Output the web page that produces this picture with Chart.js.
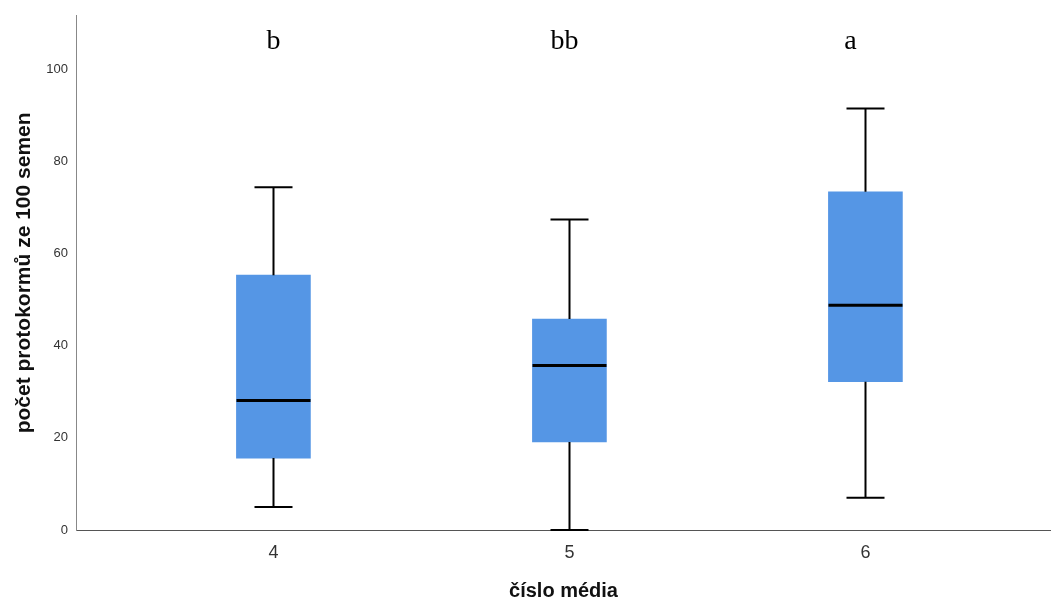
<!DOCTYPE html>
<html>
<head>
<meta charset="utf-8">
<script src="https://cdn.jsdelivr.net/npm/chart.js@4"></script>
<style>
  html, body { margin: 0; padding: 0; background: #ffffff; }
  #wrap { width: 1051px; height: 601px; }
</style>
</head>
<body>
<div id="wrap"><canvas id="c" width="1051" height="601"></canvas></div>
<script>
// ---- data ----
const categories = [4, 5, 6];
const whiskerLow = [5, 0, 7];
const q1Values = [15.6, 19.1, 32.2];
const medianValues = [28.1, 35.7, 48.8];
const q3Values = [55.3, 45.8, 73.4];
const whiskerHigh = [74.4, 67.4, 91.5];
const groupLetters = ['b', 'bb', 'a'];
const yTicks = [0, 20, 40, 60, 80, 100];
const xTicks = [4, 5, 6];

const boxData = categories.map((c, i) => ({ x: c, y: [q1Values[i], q3Values[i]] }));

const boxPlugin = {
  id: 'boxExtras',
  afterDatasetsDraw(chart) {
    const ctx = chart.ctx;
    const xs = chart.scales.x, ys = chart.scales.y;
    const boxW = 74, capW = 38;
    ctx.save();
    categories.forEach((c, i) => {
      const px = Math.round(xs.getPixelForValue(c)) + 0.5;
      const yLo = ys.getPixelForValue(whiskerLow[i]);
      const yQ1 = ys.getPixelForValue(q1Values[i]);
      const yQ3 = ys.getPixelForValue(q3Values[i]);
      const yHi = ys.getPixelForValue(whiskerHigh[i]);
      const yMed = ys.getPixelForValue(medianValues[i]);
      ctx.strokeStyle = '#000000';
      ctx.lineWidth = 2;
      ctx.beginPath();
      ctx.moveTo(px, yHi); ctx.lineTo(px, yQ3);
      ctx.moveTo(px, yQ1); ctx.lineTo(px, yLo);
      ctx.moveTo(px - capW / 2, yHi); ctx.lineTo(px + capW / 2, yHi);
      ctx.moveTo(px - capW / 2, yLo); ctx.lineTo(px + capW / 2, yLo);
      ctx.stroke();
      ctx.lineWidth = 3;
      ctx.beginPath();
      ctx.moveTo(px - boxW / 2, yMed); ctx.lineTo(px + boxW / 2, yMed);
      ctx.stroke();
    });
    // group letters
    const offsets = [0, -5, -15];
    ctx.fillStyle = '#000000';
    ctx.font = '28px "Liberation Serif", "Times New Roman", serif';
    ctx.textAlign = 'center';
    ctx.textBaseline = 'alphabetic';
    categories.forEach((c, i) => {
      const px = xs.getPixelForValue(c) + offsets[i];
      ctx.fillText(groupLetters[i], px, 49);
    });
    ctx.restore();
  }
};

new Chart(document.getElementById('c'), {
  type: 'bar',
  data: {
    datasets: [{
      data: boxData,
      backgroundColor: '#5596e5',
      borderWidth: 0,
      barThickness: 74
    }]
  },
  options: {
    responsive: false,
    animation: false,
    layout: { padding: { top: 13, right: 0, left: 0, bottom: 0 } },
    plugins: { legend: { display: false }, tooltip: { enabled: false } },
    scales: {
      x: {
        type: 'linear',
        offset: false,
        min: 3.333,
        max: 6.627,
        afterBuildTicks(axis) { axis.ticks = xTicks.map(v => ({ value: v })); },
        afterFit(axis) { axis.height = 71; },
        grid: { display: false, drawTicks: false, offset: false },
        border: { display: true, color: '#555555', width: 1 },
        ticks: {
          padding: 12,
          color: '#333333',
          font: { family: '"Liberation Sans", Arial, sans-serif', size: 18 },
          callback: v => String(v)
        },
        title: {
          display: true,
          text: 'číslo média',
          color: '#111111',
          font: { family: '"Liberation Sans", Arial, sans-serif', size: 20, weight: 'bold', lineHeight: 1 },
          padding: { top: 0, bottom: 0 }
        }
      },
      y: {
        min: 0,
        max: 111.6,
        afterBuildTicks(axis) { axis.ticks = yTicks.map(v => ({ value: v })); },
        afterFit(axis) { axis.width = 76; },
        grid: { display: false, drawTicks: false },
        border: { display: true, color: '#888888', width: 1 },
        ticks: {
          padding: 8,
          color: '#333333',
          font: { family: '"Liberation Sans", Arial, sans-serif', size: 13 }
        },
        title: {
          display: true,
          text: 'počet protokormů ze 100 semen',
          color: '#111111',
          font: { family: '"Liberation Sans", Arial, sans-serif', size: 21, weight: 'bold', lineHeight: 1 },
          padding: { top: 14, bottom: 0 }
        }
      }
    }
  },
  plugins: [boxPlugin]
});
</script>
</body>
</html>
